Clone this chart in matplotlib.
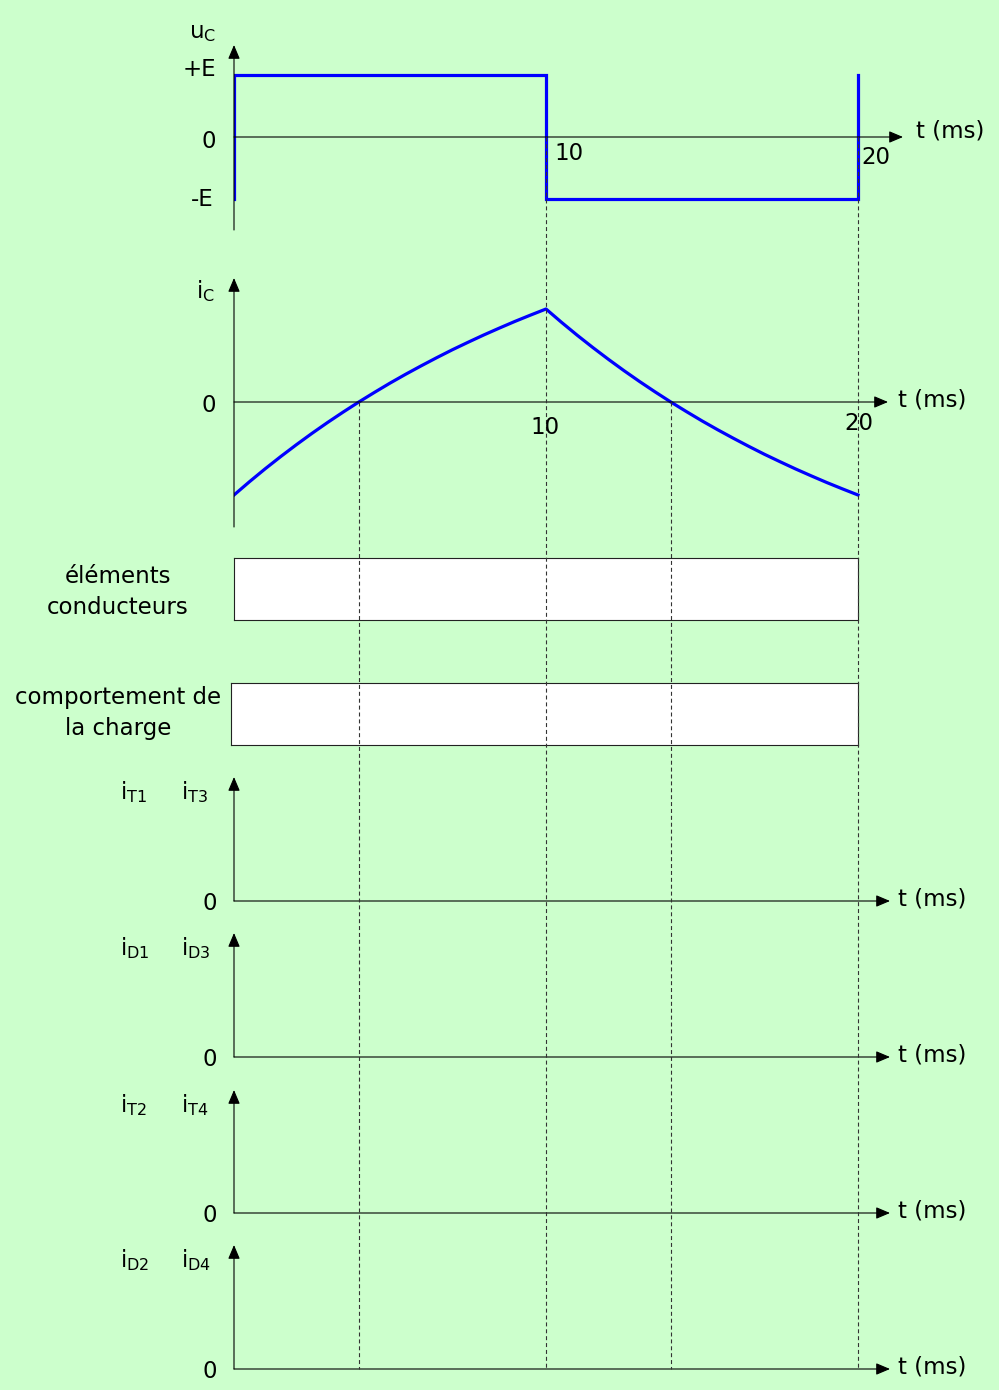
import matplotlib
matplotlib.use("Agg")
import matplotlib.pyplot as plt

# canvas in pixels, time axis mapping shared by every panel
W, H = 999, 1390
T0_PX = 234          # pixel column of t = 0
PX_PER_MS = 31.2     # 20 ms -> x = 858
BG = "#CCFFCC"
BLUE = "#0000FF"

# u_C : square wave, in units of E
uc_t = [0, 0, 10, 10, 20, 20]
uc_v = [-1, 1, 1, -1, -1, 1]

# i_C, in units of the peak current
ic_t = [0, 0.5, 1, 1.5, 2, 2.5, 3, 3.5, 4, 4.5, 5, 5.5, 6, 6.5, 7, 7.5,
        8, 8.5, 9, 9.5, 10,
        10.5, 11, 11.5, 12, 12.5, 13, 13.5, 14, 14.5, 15, 15.5, 16, 16.5,
        17, 17.5, 18, 18.5, 19, 19.5, 20]
ic_v = [-1.0, -0.856, -0.718, -0.586, -0.459, -0.337, -0.220, -0.108,
        0.0, 0.103, 0.203, 0.298, 0.389, 0.477, 0.562, 0.642, 0.720,
        0.794, 0.866, 0.934, 1.0,
        0.856, 0.718, 0.586, 0.459, 0.337, 0.220, 0.108,
        0.0, -0.103, -0.203, -0.298, -0.389, -0.477, -0.562, -0.642,
        -0.720, -0.794, -0.866, -0.934, -1.0]

# dashed guide lines: instants and the row (pixel) they start from
guide_t = [4, 10, 14, 20]
guide_top = [402, 137, 402, 137]
guide_bottom = 1369

# empty current panels: labels, arrow tip row, t-axis row
current_panels = [
    ("$i_{T1}$", "$i_{T3}$", 777, 901),
    ("$i_{D1}$", "$i_{D3}$", 933, 1057),
    ("$i_{T2}$", "$i_{T4}$", 1090, 1213),
    ("$i_{D2}$", "$i_{D4}$", 1245, 1369),
]

plt.rcParams["font.family"] = ["DejaVu Sans"]
plt.rcParams["mathtext.default"] = "regular"
FS = 16.5

fig = plt.figure(figsize=(W / 100, H / 100), dpi=100, facecolor=BG)

ARROW = dict(arrowstyle="-|>,head_length=0.85,head_width=0.36",
             mutation_scale=10, lw=0.8, color="black",
             shrinkA=0, shrinkB=0)


def ftext(x, y, s, **kw):
    kw.setdefault("fontsize", FS)
    kw.setdefault("va", "center")
    fig.text(x / W, 1 - y / H, s, **kw)


def panel(top, bottom, left=T0_PX, right=912):
    ax = fig.add_axes([left / W, 1 - bottom / H,
                       (right - left) / W, (bottom - top) / H])
    ax.set_axis_off()
    ax.patch.set_alpha(0)
    ax.set_xlim(0, (right - T0_PX) / PX_PER_MS)
    return ax


def axes_arrows(ax, y0, ybot, ytop, t_end):
    ax.annotate("", xy=(0, ytop), xytext=(0, ybot), arrowprops=ARROW)
    ax.annotate("", xy=(t_end, y0), xytext=(0, y0), arrowprops=ARROW)


# ---- u_C panel ----
E_PX = 62
ax1 = panel(45, 230)
ax1.set_ylim(-(230 - 137) / E_PX, (137 - 45) / E_PX)
axes_arrows(ax1, 0, -(230 - 137) / E_PX, (137 - 45) / E_PX,
            (903 - T0_PX) / PX_PER_MS)
ax1.plot(uc_t, uc_v, color=BLUE, lw=2.3, solid_joinstyle="miter")
ftext(203, 33, "$u_C$", ha="center")
ftext(216, 70, "+E", ha="right")
ftext(216, 141, "0", ha="right")
ftext(214, 199, "-E", ha="right")
ftext(554, 154, "10", ha="left")
ftext(861, 157, "20", ha="left")
ftext(916, 131, "t (ms)", ha="left")

# ---- i_C panel ----
I_PX = 93
ax2 = panel(278, 527)
ax2.set_ylim(-(527 - 402) / I_PX, (402 - 278) / I_PX)
axes_arrows(ax2, 0, -(527 - 402) / I_PX, (402 - 278) / I_PX,
            (888 - T0_PX) / PX_PER_MS)
ax2.plot(ic_t, ic_v, color=BLUE, lw=2.3, solid_joinstyle="round")
ftext(205, 291, "$i_C$", ha="center")
ftext(216, 405, "0", ha="right")
ftext(545, 428, "10", ha="center")
ftext(859, 423, "20", ha="center")
ftext(898, 400, "t (ms)", ha="left")

# ---- empty boxes ----
for top, bottom, left, label, ly in [
        (558, 620, 234, "éléments\nconducteurs", 592),
        (683, 745, 231, "comportement de\nla charge", 713)]:
    axb = fig.add_axes([left / W, 1 - bottom / H,
                        (858 - left) / W, (bottom - top) / H])
    axb.set_xticks([])
    axb.set_yticks([])
    axb.set_facecolor("white")
    for sp in axb.spines.values():
        sp.set_linewidth(0.8)
        sp.set_color("#222222")
    ftext(118, ly, label, ha="center", linespacing=1.4)

# ---- empty current panels ----
for lab1, lab2, tip, axis_y in current_panels:
    ax = panel(tip, axis_y)
    ax.set_ylim(0, 1)
    axes_arrows(ax, 0, 0, 1, (890 - T0_PX) / PX_PER_MS)
    ftext(120, tip + 15, lab1, ha="left")
    ftext(181, tip + 15, lab2, ha="left")
    ftext(217, axis_y + 3, "0", ha="right")
    ftext(898, axis_y - 2, "t (ms)", ha="left")

# ---- dashed guides across all panels ----
axg = fig.add_axes([T0_PX / W, 0, (912 - T0_PX) / W, 1])
axg.set_axis_off()
axg.patch.set_alpha(0)
axg.set_xlim(0, (912 - T0_PX) / PX_PER_MS)
axg.set_ylim(H, 0)
axg.vlines(guide_t, guide_top, guide_bottom, colors="#333333",
           lw=0.8, linestyles=(0, (3.6, 2.6)))

fig.savefig("out.png", dpi=100, facecolor=BG)
plt.close(fig)
